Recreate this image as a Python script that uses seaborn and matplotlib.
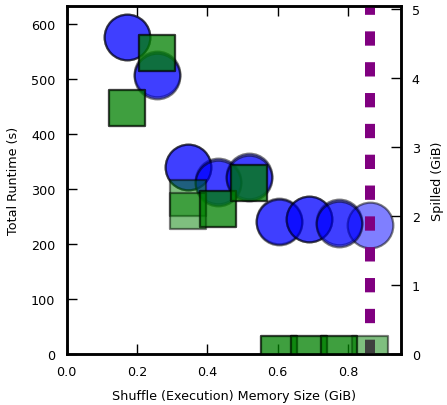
import numpy as np
import pandas as pd
import matplotlib
matplotlib.use("Agg")
import matplotlib.pyplot as plt
import seaborn as sns

# Data (two trials; second trial lacks the largest memory size)
memory_sizes = [0.171, 0.258, 0.344, 0.430, 0.518, 0.604, 0.690, 0.776, 0.8625]
runtime_trial1 = [575, 508, 340, 315, 323, 242, 245, 240, 235]
runtime_trial2 = [575, 504, 340, 310, 320, 240, 245, 236]
spilled_trial1 = [3.57, 4.36, 2.26, 2.10, 2.47, 0.0, 0.0, 0.0, 0.0]
spilled_trial2 = [3.57, 4.36, 2.07, 2.10, 2.47, 0.0, 0.0, 0.0]
total_memory_line = 0.8625

x_ticks = [0.0, 0.2, 0.4, 0.6, 0.8]
y_ticks = [0, 100, 200, 300, 400, 500, 600]
y2_ticks = [0, 1, 2, 3, 4, 5]

rows = []
for i, x in enumerate(memory_sizes):
    rows.append(dict(memory=x, runtime=runtime_trial1[i], spilled=spilled_trial1[i], trial=1))
for i, x in enumerate(memory_sizes[:len(runtime_trial2)]):
    rows.append(dict(memory=x, runtime=runtime_trial2[i], spilled=spilled_trial2[i], trial=2))
df = pd.DataFrame(rows)

sns.set_style("ticks")
plt.rcParams['font.family'] = ['DejaVu Sans']
plt.rcParams['lines.scale_dashes'] = False
for key in ('text.color', 'axes.labelcolor', 'xtick.color', 'ytick.color',
            'axes.edgecolor'):
    plt.rcParams[key] = 'black'

fig = plt.figure(figsize=(4.47, 4.06), dpi=100)
ax = fig.add_axes([66.5/447, 51/406, (400.7-66.5)/447, (355-7)/406])

sns.scatterplot(data=df, x="memory", y="runtime", ax=ax, color="blue",
                s=1080, alpha=0.5, edgecolor="black", linewidth=1.6,
                marker="o", legend=False)

ax2 = ax.twinx()
ax2.axvline(total_memory_line, color="purple", linewidth=7.2,
            linestyle=(0, (10.3, 11.9)), zorder=1)
sns.scatterplot(data=df, x="memory", y="spilled", ax=ax2, color="green",
                s=700, alpha=0.5, edgecolor="black", linewidth=1.6,
                marker="s", legend=False, zorder=2)

ax.set_xlim(0, 0.95)
ax.set_ylim(0, 632)
ax2.set_ylim(0, 5.04)

ax.set_xticks(x_ticks)
ax.set_xticklabels([f"{v:.1f}" for v in x_ticks])
ax.set_yticks(y_ticks)
ax2.set_yticks(y2_ticks)

fs = 9.2
ax.set_xlabel("Shuffle (Execution) Memory Size (GiB)", fontsize=fs, labelpad=8)
ax.set_ylabel("Total Runtime (s)", fontsize=fs, labelpad=8)
ax2.set_ylabel("Spilled (GiB)", fontsize=fs, labelpad=8)

ax.tick_params(axis="x", direction="in", length=7, width=1, top=True,
               bottom=True, labelsize=fs, pad=8, colors="black")
ax.tick_params(axis="y", direction="in", length=7, width=1, left=True,
               right=False, labelsize=fs, pad=8, colors="black")
ax2.tick_params(axis="y", direction="in", length=7, width=1, right=True,
                left=False, labelsize=fs, pad=8, colors="black")
ax2.tick_params(axis="x", top=False, bottom=False)

for a in (ax, ax2):
    for sp in a.spines.values():
        sp.set_visible(True)
        sp.set_linewidth(1.8)
        sp.set_color("black")

fig.savefig("out.png", dpi=100)
